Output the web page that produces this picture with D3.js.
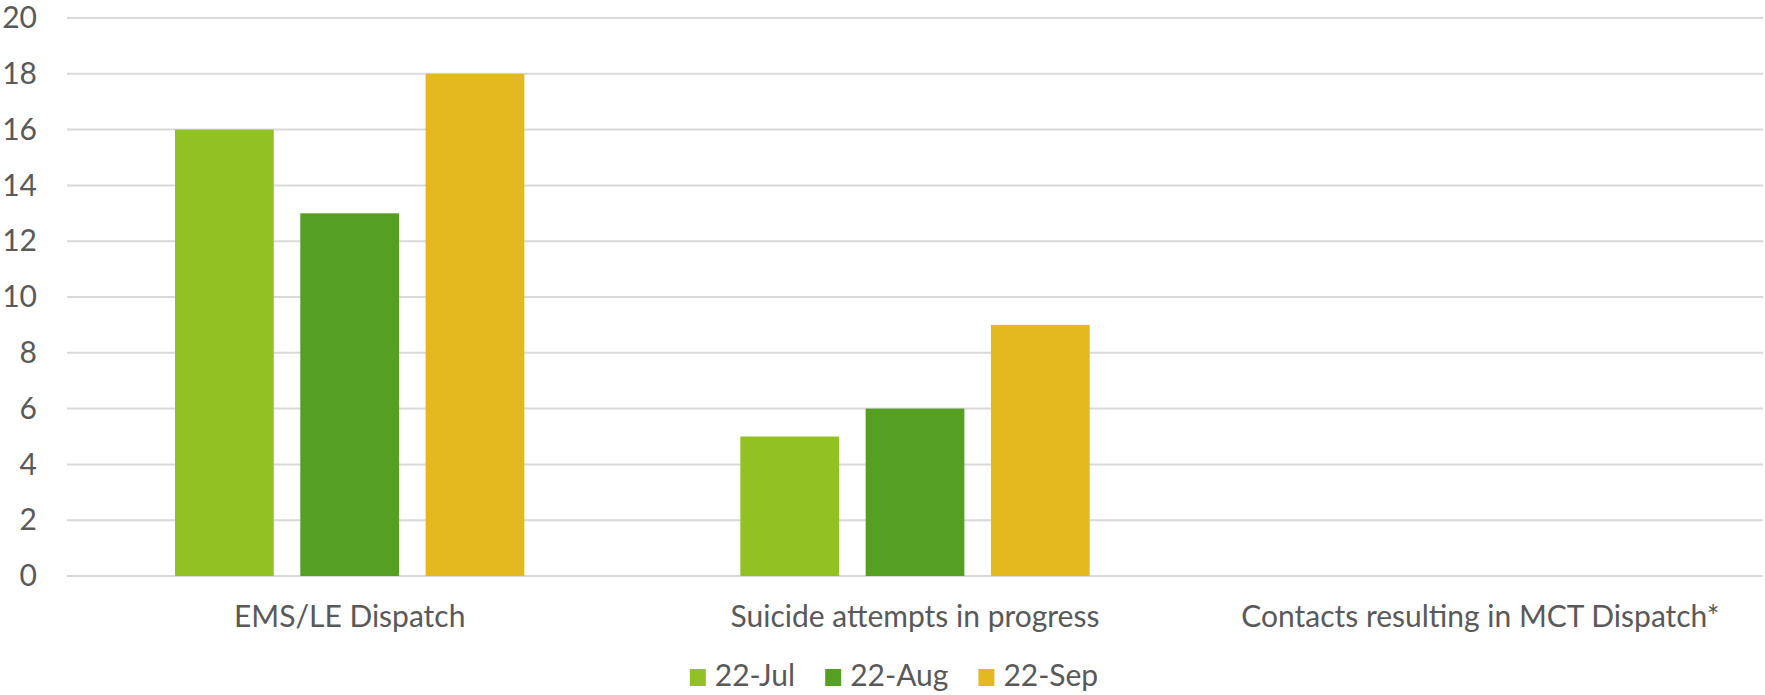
<!DOCTYPE html>
<html>
<head>
<meta charset="utf-8">
<script src="https://cdn.jsdelivr.net/npm/d3@7"></script>
<style>
  html, body { margin: 0; padding: 0; background: #ffffff; }
  svg { display: block; }
  text { font-family: Lato, "Open Sans", sans-serif; fill: #595959; }
</style>
</head>
<body>
<svg id="chart" width="1765" height="695"></svg>
<script>
// ---- data ----
const categories = ["EMS/LE Dispatch", "Suicide attempts in progress", "Contacts resulting in MCT Dispatch*"];
const seriesNames = ["22-Jul", "22-Aug", "22-Sep"];
const jul = [16, 5, null];
const aug = [13, 6, null];
const sep = [18, 9, null];
const yTicks = [0, 2, 4, 6, 8, 10, 12, 14, 16, 18, 20];

const seriesValues = [jul, aug, sep];
const colors = ["#92C124", "#55A022", "#E4B920"];

const W = 1765, H = 695;
const plot = { left: 67, right: 1763, top: 18, bottom: 576 };
const fontSize = 30;

const svg = d3.select("#chart");

const x0 = d3.scaleBand().domain(categories).range([plot.left, plot.right]).padding(0);
const x1 = d3.scaleBand().domain(seriesNames).range([0, x0.bandwidth()])
  .paddingInner(0.212).paddingOuter(0.862);
const y = d3.scaleLinear().domain([0, 20]).range([plot.bottom, plot.top]);

// gridlines
svg.append("g").selectAll("line").data(yTicks).join("line")
  .attr("x1", plot.left).attr("x2", plot.right)
  .attr("y1", d => y(d)).attr("y2", d => y(d))
  .attr("stroke", "#D9D9D9").attr("stroke-width", 2);

// y-axis labels
const yAxis = d3.axisLeft(y).tickValues(yTicks).tickSize(0).tickPadding(0);
const yg = svg.append("g").attr("transform", `translate(${plot.left - 30},0)`).call(yAxis);
yg.select(".domain").remove();
yg.selectAll("text").attr("font-size", fontSize).attr("fill", "#595959")
  .style("font-family", "Lato, 'Open Sans', sans-serif");

// bars
const rows = [];
categories.forEach((c, i) => {
  seriesNames.forEach((s, j) => {
    const v = seriesValues[j][i];
    if (v != null) rows.push({ c, s, v, color: colors[j] });
  });
});
svg.append("g").selectAll("rect").data(rows).join("rect")
  .attr("x", d => x0(d.c) + x1(d.s))
  .attr("width", x1.bandwidth())
  .attr("y", d => y(d.v))
  .attr("height", d => y(0) - y(d.v))
  .attr("fill", d => d.color);

// category labels
const xAxis = d3.axisBottom(x0).tickSize(0).tickPadding(0);
const xg = svg.append("g").attr("transform", `translate(0,${plot.bottom})`).call(xAxis);
xg.select(".domain").remove();
xg.selectAll("text").attr("font-size", fontSize).attr("fill", "#595959")
  .attr("dy", null).attr("y", 50.7)
  .style("font-family", "Lato, 'Open Sans', sans-serif");

// legend
const legend = svg.append("g");
const items = legend.selectAll("g").data(seriesNames).join("g");
items.append("rect").attr("width", 16).attr("height", 17).attr("y", 669)
  .attr("fill", (d, i) => colors[i]);
items.append("text").attr("x", 25).attr("y", 686).attr("font-size", fontSize).text(d => d);
const widths = [];
items.each(function () {
  widths.push(d3.select(this).select("text").node().getComputedTextLength());
});
const gap = 30;
const total = widths.reduce((a, w) => a + 25 + w, 0) + gap * (widths.length - 1);
let start = 894 - total / 2;
items.attr("transform", (d, i) => {
  const t = `translate(${start},0)`;
  start += 25 + widths[i] + gap;
  return t;
});
</script>
</body>
</html>
